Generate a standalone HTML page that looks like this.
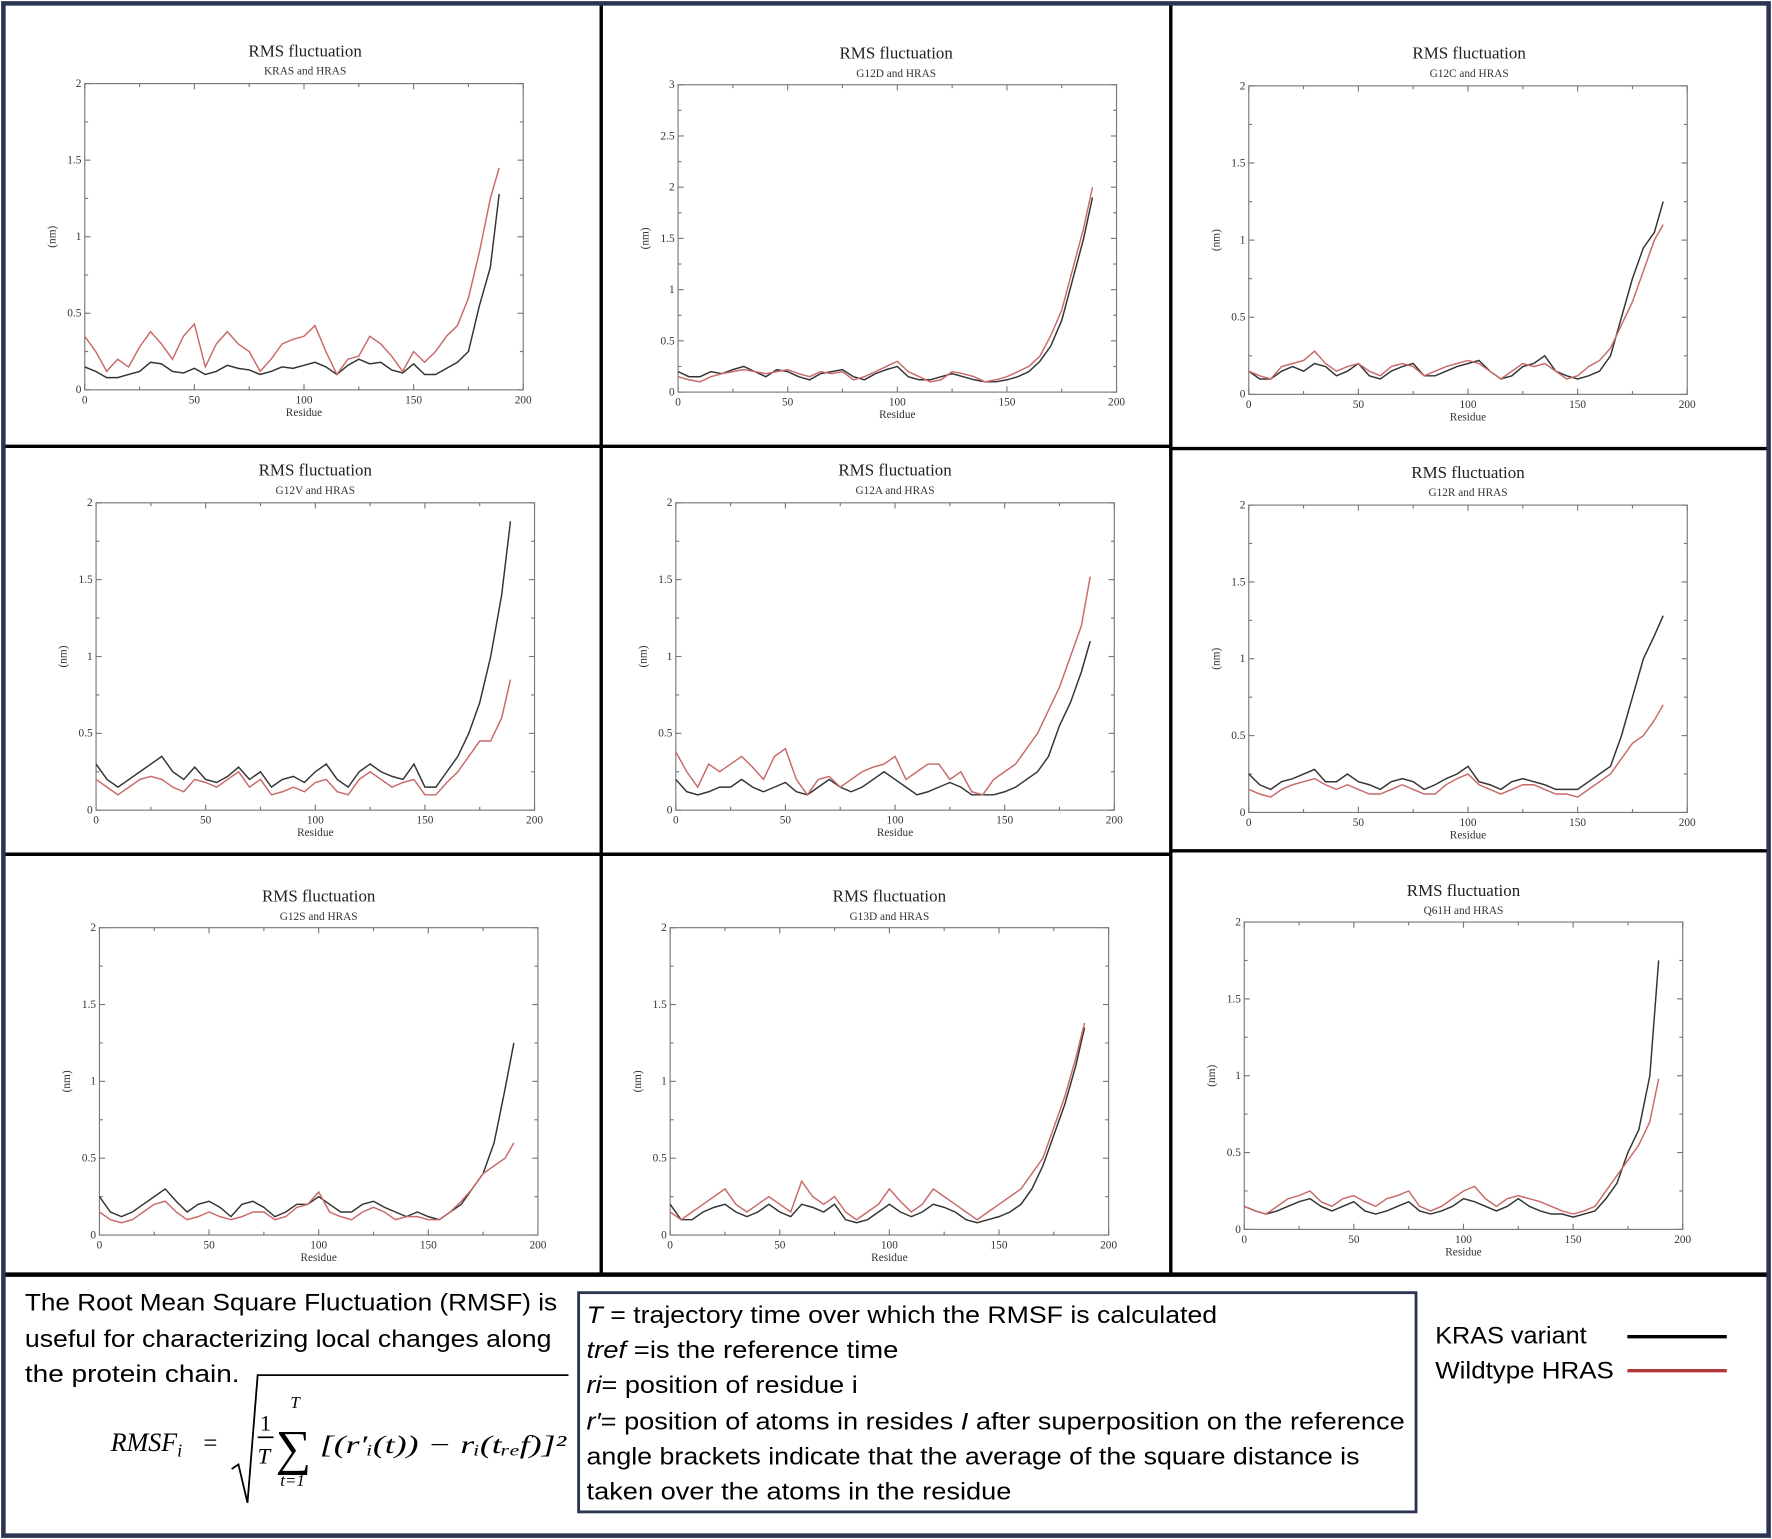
<!DOCTYPE html>
<html><head><meta charset="utf-8"><style>
html,body{margin:0;padding:0;background:#fff;}
svg{display:block;}
</style></head><body>
<svg id="root" width="1772" height="1539" viewBox="0 0 1568 1362" preserveAspectRatio="none" xmlns="http://www.w3.org/2000/svg">
<rect x="0" y="0" width="1568" height="1362" fill="#fff"/>
<g id="panels"></g>
<!-- grid borders -->
<g stroke="#000" fill="none">
<line x1="532" y1="4" x2="532" y2="1128" stroke-width="3"/>
<line x1="1036" y1="4" x2="1036" y2="1128" stroke-width="3"/>
<line x1="4" y1="395" x2="532" y2="395" stroke-width="3"/>
<line x1="532" y1="395" x2="1036" y2="395" stroke-width="3"/>
<line x1="1036" y1="397" x2="1564" y2="397" stroke-width="3"/>
<line x1="4" y1="756" x2="532" y2="756" stroke-width="3"/>
<line x1="532" y1="756" x2="1036" y2="756" stroke-width="3"/>
<line x1="1036" y1="753" x2="1564" y2="753" stroke-width="3"/>
<line x1="4" y1="1128" x2="1564" y2="1128" stroke-width="4"/>
</g>
<rect x="3" y="3" width="1562" height="1356" fill="none" stroke="#2b3552" stroke-width="4"/>

<!-- bottom explanation -->
<g font-family="'Liberation Sans Narrow','Liberation Sans',sans-serif" font-size="21" fill="#000">
<text x="22" y="1160" textLength="471" lengthAdjust="spacingAndGlyphs">The Root Mean Square Fluctuation (RMSF) is</text>
<text x="22" y="1192" textLength="466" lengthAdjust="spacingAndGlyphs">useful for characterizing local changes along</text>
<text x="22" y="1223" textLength="190" lengthAdjust="spacingAndGlyphs">the protein chain.</text>
</g>
<g font-family="'Liberation Serif',serif" font-style="italic" fill="#000">
<text x="98" y="1284" font-size="23">RMSF<tspan font-size="16" dy="5">i</tspan></text>
<text x="180" y="1284" font-size="22" font-style="normal">=</text>
<path d="M205,1300 L211,1296 L219,1330 L228,1217 L503,1217" fill="none" stroke="#000" stroke-width="1.6"/>
<text x="230" y="1266" font-size="20" font-style="normal">1</text>
<line x1="228" y1="1272" x2="242" y2="1272" stroke="#000" stroke-width="1.5"/>
<text x="228" y="1295" font-size="20">T</text>
<text x="244" y="1296" font-size="44" font-style="normal">∑</text>
<text x="257" y="1246" font-size="15">T</text>
<text x="248" y="1315" font-size="15">t=1</text>
<text x="283" y="1286" font-size="22" textLength="218" lengthAdjust="spacingAndGlyphs">[(r′ᵢ(t)) − rᵢ(tᵣₑf)]²</text>
</g>
<rect x="512" y="1144" width="741" height="194" fill="none" stroke="#2b3552" stroke-width="2.5"/>
<g font-family="'Liberation Sans Narrow','Liberation Sans',sans-serif" font-size="21" fill="#000">
<text x="519" y="1171" textLength="558" lengthAdjust="spacingAndGlyphs"><tspan font-style="italic">T</tspan> = trajectory time over which the RMSF is calculated</text>
<text x="519" y="1202" textLength="276" lengthAdjust="spacingAndGlyphs"><tspan font-style="italic">tref</tspan> =is the reference time</text>
<text x="519" y="1233" textLength="240" lengthAdjust="spacingAndGlyphs"><tspan font-style="italic">ri</tspan>= position of residue i</text>
<text x="519" y="1265" textLength="724" lengthAdjust="spacingAndGlyphs"><tspan font-style="italic">r′</tspan>= position of atoms in resides <tspan font-style="italic">I</tspan> after superposition on the reference</text>
<text x="519" y="1296" textLength="684" lengthAdjust="spacingAndGlyphs">angle brackets indicate that the average of the square distance is</text>
<text x="519" y="1327" textLength="376" lengthAdjust="spacingAndGlyphs">taken over the atoms in the residue</text>
</g>
<g font-family="'Liberation Sans Narrow','Liberation Sans',sans-serif" font-size="21" fill="#000">
<g>
<text x="1270" y="1189" textLength="134" lengthAdjust="spacingAndGlyphs">KRAS variant</text>
<line x1="1440" y1="1183" x2="1528" y2="1183" stroke="#000" stroke-width="3"/>
</g>
<g>
<text x="1270" y="1220" textLength="158" lengthAdjust="spacingAndGlyphs">Wildtype HRAS</text>
<line x1="1440" y1="1213" x2="1528" y2="1213" stroke="#b03a38" stroke-width="3"/>
</g>
</g>
</svg>
<script>
const residues = [0,5,10,15,20,25,30,35,40,45,50,55,60,65,70,75,80,85,90,95,100,105,110,115,120,125,130,135,140,145,150,155,160,165,170,175,180,185,189];
const panelTitles = ["KRAS and HRAS","G12D and HRAS","G12C and HRAS","G12V and HRAS","G12A and HRAS","G12R and HRAS","G12S and HRAS","G13D and HRAS","Q61H and HRAS"];
const yMaxes = [2,3,2,2,2,2,2,2,2];
const xTicks = [0,50,100,150,200];
const kras1 = [.15,.12,.08,.08,.1,.12,.18,.17,.12,.11,.14,.1,.12,.16,.14,.13,.1,.12,.15,.14,.16,.18,.15,.1,.16,.2,.17,.18,.13,.11,.17,.1,.1,.14,.18,.25,.55,.8,1.28];
const hras1 = [.35,.25,.12,.2,.15,.28,.38,.3,.2,.35,.43,.15,.3,.38,.3,.25,.12,.2,.3,.33,.35,.42,.25,.1,.2,.22,.35,.3,.22,.12,.25,.18,.25,.35,.42,.6,.9,1.25,1.45];
const kras2 = [.2,.15,.15,.2,.18,.22,.25,.2,.15,.22,.2,.15,.12,.18,.2,.22,.15,.12,.18,.22,.25,.15,.12,.12,.15,.18,.15,.12,.1,.1,.12,.15,.2,.3,.45,.7,1.1,1.5,1.9];
const hras2 = [.15,.12,.1,.15,.18,.2,.22,.2,.18,.2,.22,.18,.15,.2,.18,.2,.12,.15,.2,.25,.3,.2,.15,.1,.12,.2,.18,.15,.1,.12,.15,.2,.25,.35,.55,.8,1.2,1.6,2.0];
const kras3 = [.15,.1,.1,.15,.18,.15,.2,.18,.12,.15,.2,.12,.1,.15,.18,.2,.12,.12,.15,.18,.2,.22,.15,.1,.12,.18,.2,.25,.15,.12,.1,.12,.15,.25,.5,.75,.95,1.05,1.25];
const hras3 = [.15,.12,.1,.18,.2,.22,.28,.2,.15,.18,.2,.15,.12,.18,.2,.18,.12,.15,.18,.2,.22,.2,.15,.1,.15,.2,.18,.2,.15,.1,.12,.18,.22,.3,.45,.6,.8,1.0,1.1];
const kras4 = [.3,.2,.15,.2,.25,.3,.35,.25,.2,.28,.2,.18,.22,.28,.2,.25,.15,.2,.22,.18,.25,.3,.2,.15,.25,.3,.25,.22,.2,.3,.15,.15,.25,.35,.5,.7,1.0,1.4,1.88];
const hras4 = [.2,.15,.1,.15,.2,.22,.2,.15,.12,.2,.18,.15,.2,.25,.15,.2,.1,.12,.15,.12,.18,.2,.12,.1,.2,.25,.2,.15,.18,.2,.1,.1,.18,.25,.35,.45,.45,.6,.85];
const kras5 = [.2,.12,.1,.12,.15,.15,.2,.15,.12,.15,.18,.12,.1,.15,.2,.15,.12,.15,.2,.25,.2,.15,.1,.12,.15,.18,.15,.1,.1,.1,.12,.15,.2,.25,.35,.55,.7,.9,1.1];
const hras5 = [.38,.25,.15,.3,.25,.3,.35,.28,.2,.35,.4,.2,.1,.2,.22,.15,.2,.25,.28,.3,.35,.2,.25,.3,.3,.2,.25,.12,.1,.2,.25,.3,.4,.5,.65,.8,1.0,1.2,1.52];
const kras6 = [.25,.18,.15,.2,.22,.25,.28,.2,.2,.25,.2,.18,.15,.2,.22,.2,.15,.18,.22,.25,.3,.2,.18,.15,.2,.22,.2,.18,.15,.15,.15,.2,.25,.3,.5,.75,1.0,1.15,1.28];
const hras6 = [.15,.12,.1,.15,.18,.2,.22,.18,.15,.18,.15,.12,.12,.15,.18,.15,.12,.12,.18,.22,.25,.18,.15,.12,.15,.18,.18,.15,.12,.12,.1,.15,.2,.25,.35,.45,.5,.6,.7];
const kras7 = [.25,.15,.12,.15,.2,.25,.3,.22,.15,.2,.22,.18,.12,.2,.22,.18,.12,.15,.2,.2,.25,.2,.15,.15,.2,.22,.18,.15,.12,.15,.12,.1,.15,.2,.3,.4,.6,.95,1.25];
const hras7 = [.15,.1,.08,.1,.15,.2,.22,.15,.1,.12,.15,.12,.1,.12,.15,.15,.1,.12,.18,.2,.28,.15,.12,.1,.15,.18,.15,.1,.12,.12,.1,.1,.15,.22,.3,.4,.45,.5,.6];
const kras8 = [.2,.1,.1,.15,.18,.2,.15,.12,.15,.2,.15,.12,.2,.18,.15,.2,.1,.08,.1,.15,.2,.15,.12,.15,.2,.18,.15,.1,.08,.1,.12,.15,.2,.3,.45,.65,.85,1.1,1.35];
const hras8 = [.15,.1,.15,.2,.25,.3,.2,.15,.2,.25,.2,.15,.35,.25,.2,.25,.15,.1,.15,.2,.3,.22,.15,.2,.3,.25,.2,.15,.1,.15,.2,.25,.3,.4,.5,.7,.9,1.15,1.38];
const kras9 = [.15,.12,.1,.12,.15,.18,.2,.15,.12,.15,.18,.12,.1,.12,.15,.18,.12,.1,.12,.15,.2,.18,.15,.12,.15,.2,.15,.12,.1,.1,.08,.1,.12,.2,.3,.5,.65,1.0,1.75];
const hras9 = [.15,.12,.1,.15,.2,.22,.25,.18,.15,.2,.22,.18,.15,.2,.22,.25,.15,.12,.15,.2,.25,.28,.2,.15,.2,.22,.2,.18,.15,.12,.1,.12,.15,.25,.35,.45,.55,.7,.98];
const krasSeries = [kras1,kras2,kras3,kras4,kras5,kras6,kras7,kras8,kras9];
const hrasSeries = [hras1,hras2,hras3,hras4,hras5,hras6,hras7,hras8,hras9];

// layout (positions, not data)
const boxes = [
 {l:75,r:463,t:74,b:345,tx:270,ty:50},
 {l:600,r:988,t:75,b:347,tx:793,ty:52},
 {l:1105,r:1493,t:76,b:349,tx:1300,ty:52},
 {l:85,r:473,t:445,b:717,tx:279,ty:421},
 {l:598,r:986,t:445,b:717,tx:792,ty:421},
 {l:1105,r:1493,t:447,b:719,tx:1299,ty:423},
 {l:88,r:476,t:821,b:1093,tx:282,ty:798},
 {l:593,r:981,t:821,b:1093,tx:787,ty:798},
 {l:1101,r:1489,t:816,b:1088,tx:1295,ty:793}
];
const NS='http://www.w3.org/2000/svg';
function mk(tag, attrs, parent){const e=document.createElementNS(NS,tag);for(const k in attrs)e.setAttribute(k,attrs[k]);parent.appendChild(e);return e;}
const root=document.getElementById('panels');
boxes.forEach((bx,i)=>{
  const g=mk('g',{},root);
  
  
  const ymax=yMaxes[i];
  const xs=v=>bx.l+(v/200)*(bx.r-bx.l);
  const ys=v=>bx.b-(v/ymax)*(bx.b-bx.t);
  const ff="'Liberation Serif',serif";
  const t1=mk('text',{x:bx.tx,y:bx.ty,'text-anchor':'middle','font-family':ff,'font-size':15,fill:'#222'},g);
  t1.textContent='RMS fluctuation';
  
  
  const t2=mk('text',{x:bx.tx,y:bx.ty+16,'text-anchor':'middle','font-family':ff,'font-size':10,fill:'#333'},g);
  t2.textContent=panelTitles[i];
  
  
  const fr=mk('rect',{x:bx.l,y:bx.t,width:bx.r-bx.l,height:bx.b-bx.t,fill:'none',stroke:'#777','stroke-width':1},g);
  
  
  // x ticks
  for(let v=0;v<=200;v+=25){
    const major=v%50===0, len=major?5:3, x=xs(v);
    mk('line',{x1:x,y1:bx.b,x2:x,y2:bx.b-len,stroke:'#777'},g);
    mk('line',{x1:x,y1:bx.t,x2:x,y2:bx.t+len,stroke:'#777'},g);
  }
  xTicks.forEach(v=>{
    const tl=mk('text',{x:xs(v),y:bx.b+12,'text-anchor':'middle','font-family':ff,'font-size':10,fill:'#333'},g);
    tl.textContent=String(v);
    
    
  });
  for(let k=0;k<=ymax*4;k++){
    const v=k/4, major=k%2===0, len=major?5:3, y=ys(v);
    mk('line',{x1:bx.l,y1:y,x2:bx.l+len,y2:y,stroke:'#777'},g);
    mk('line',{x1:bx.r,y1:y,x2:bx.r-len,y2:y,stroke:'#777'},g);
    if(major){
      const tl=mk('text',{x:bx.l-3,y:y+3,'text-anchor':'end','font-family':ff,'font-size':10,fill:'#333'},g);
      tl.textContent=String(v);
      
      
    }
  }
  const xl=mk('text',{x:(bx.l+bx.r)/2,y:bx.b+23,'text-anchor':'middle','font-family':ff,'font-size':10,fill:'#333'},g);
  xl.textContent='Residue';
  
  
  const yx=bx.l-26, yy=(bx.t+bx.b)/2;
  const yl=mk('text',{x:yx,y:yy,'text-anchor':'middle','font-family':ff,'font-size':10,fill:'#333',transform:'rotate(-90 '+yx+' '+yy+')'},g);
  yl.textContent='(nm)';
  
  
  const pts=s=>residues.map((r,j)=>xs(r).toFixed(1)+','+ys(s[j]).toFixed(1)).join(' ');
  const lk=mk('polyline',{points:pts(krasSeries[i]),fill:'none',stroke:'#333','stroke-width':1.3},g);
  
  
  const lh=mk('polyline',{points:pts(hrasSeries[i]),fill:'none',stroke:'#c96a6a','stroke-width':1.3},g);
  
  
});
</script>
</body></html>
